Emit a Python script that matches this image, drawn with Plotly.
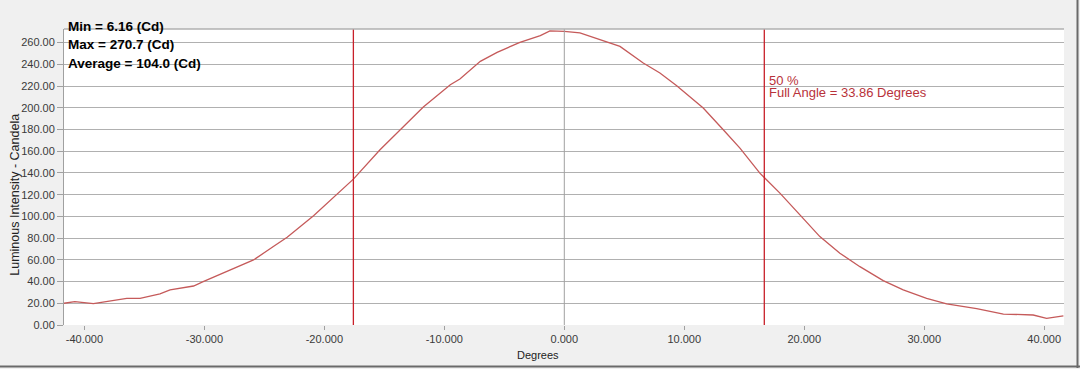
import plotly.graph_objects as go

# ---- data ----
degrees = [-41.7, -40.8, -39.25, -37.86, -36.47, -35.36, -33.7, -32.86, -30.9, -30.1,
           -28.1, -25.9, -24.25, -23.1, -20.9, -18.97, -17.58, -15.36, -13.7, -11.75,
           -9.5, -8.7, -7.0, -5.6, -3.7, -2.0, -1.2, 0.0, 1.3, 3.0,
           4.64, 6.58, 7.97, 9.37, 11.58, 13.25, 14.64, 16.3, 17.97, 19.64,
           21.3, 22.97, 24.64, 26.58, 28.25, 30.2, 31.87, 34.37, 36.6, 39.08,
           40.2, 41.6]
candela = [20.0, 21.5, 19.6, 22.4, 24.6, 24.6, 28.6, 32.3, 35.9, 39.9,
           49.1, 59.9, 72.2, 80.8, 100.5, 119.8, 134.3, 161.3, 179.7, 200.7,
           221.2, 226.5, 242.7, 251.0, 260.2, 266.4, 270.7, 270.3, 268.9, 262.7,
           256.5, 241.2, 232.0, 220.3, 199.7, 179.7, 162.9, 139.8, 121.4, 101.4,
           81.4, 66.1, 53.7, 40.8, 32.3, 24.6, 19.4, 15.1, 10.1, 9.2,
           6.2, 8.3]
half_angle_lines = [-17.58, 16.67]
center_line = [0.0]
x_ticks = [-40, -30, -20, -10, 0, 10, 20, 30, 40]
y_ticks = [0, 20, 40, 60, 80, 100, 120, 140, 160, 180, 200, 220, 240, 260]
stats_text = ["Min = 6.16 (Cd)", "Max = 270.7 (Cd)", "Average = 104.0 (Cd)"]
angle_text = ["50 %", "Full Angle = 33.86 Degrees"]

FONT = "Liberation Sans, Arial, sans-serif"

fig = go.Figure()
fig.add_trace(go.Scatter(x=degrees, y=candela, mode="lines",
                         line=dict(color="#c55a5a", width=1.3),
                         hoverinfo="skip", showlegend=False))

shapes = []
for xv in center_line:
    shapes.append(dict(type="line", xref="x", yref="paper", x0=xv, x1=xv, y0=0, y1=1,
                       line=dict(color="#a0a0a0", width=1)))
for xv in half_angle_lines:
    shapes.append(dict(type="line", xref="x", yref="paper", x0=xv, x1=xv, y0=0, y1=1,
                       line=dict(color="#c8202a", width=1.3)))
# window frame (right / bottom dark edges)
shapes.append(dict(type="line", xref="paper", yref="paper", x0=1.0135, x1=1.0135,
                   y0=-0.145, y1=1.1, line=dict(color="#6a6a6a", width=2)))
shapes.append(dict(type="line", xref="paper", yref="paper", x0=-0.07, x1=1.016,
                   y0=-0.1402, y1=-0.1402, line=dict(color="#6a6a6a", width=2)))
# top border of the plot area
shapes.append(dict(type="line", xref="paper", yref="paper", x0=0, x1=1, y0=1, y1=1,
                   line=dict(color="#b0b0b0", width=1.3)))

annotations = []
for i, t in enumerate(stats_text):
    annotations.append(dict(text=t, xref="paper", yref="paper", x=0.002, y=1.008 - i * 0.0615,
                            xanchor="left", yanchor="middle", showarrow=False,
                            font=dict(family=FONT, size=13.5, color="#000000", weight="bold")))
for i, t in enumerate(angle_text):
    annotations.append(dict(text=t, xref="x", yref="paper", x=half_angle_lines[1] + 0.2,
                            y=0.826 - i * 0.042, xanchor="left", yanchor="middle",
                            showarrow=False,
                            font=dict(family=FONT, size=13, color="#b8323a")))
annotations.append(dict(text="Degrees", xref="paper", yref="paper", x=0.474, y=-0.10,
                        xanchor="center", yanchor="middle", showarrow=False,
                        font=dict(family=FONT, size=11, color="#222222")))
annotations.append(dict(text="Luminous Intensity - Candela", xref="paper", yref="paper",
                        x=-0.049, y=0.44, xanchor="center", yanchor="middle", textangle=-90,
                        showarrow=False, font=dict(family=FONT, size=12.5, color="#222222")))

fig.update_layout(
    width=1080, height=369,
    margin=dict(l=64, r=16, t=29, b=44),
    paper_bgcolor="#f0f0f0", plot_bgcolor="#ffffff",
    font=dict(family=FONT, size=11, color="#3a3a3a"),
    shapes=shapes, annotations=annotations,
    xaxis=dict(range=[-41.7, 41.65], tickvals=x_ticks,
               ticktext=[f"{v:.3f}" for v in x_ticks],
               showgrid=False, zeroline=False, ticks="outside", ticklen=4,
               tickcolor="#a0a0a0", showline=False, fixedrange=True),
    yaxis=dict(range=[0, 272.5], tickvals=y_ticks,
               ticktext=[f"{v:.2f}" for v in y_ticks],
               showgrid=True, gridcolor="#b0b0b0", gridwidth=1.3, zeroline=False,
               ticks="outside", ticklen=6, tickcolor="#a0a0a0",
               showline=True, linecolor="#a0a0a0", linewidth=1, mirror=False,
               fixedrange=True),
)

fig.write_html("out.html")
